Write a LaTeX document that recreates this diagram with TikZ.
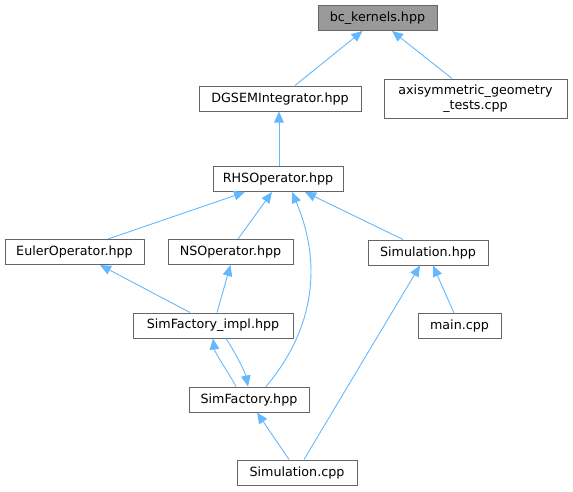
\documentclass[tikz,border=0pt]{standalone}
\usepackage{fontspec}
\setmainfont{DejaVu Sans}
\usepackage{xcolor}
\usepackage{tikz}
\usetikzlibrary{arrows.meta, calc}

\definecolor{edgeblue}{RGB}{99,184,255}
\definecolor{boxgray}{RGB}{102,102,102}
\definecolor{headgray}{RGB}{153,153,153}

\begin{document}
\begin{tikzpicture}[x=1pt, y=-1pt,
    file/.style={
        rectangle, draw=boxgray, fill=white, line width=1pt,
        minimum height=25pt, inner sep=0pt, align=center,
        font=\fontsize{12.7}{15}\selectfont
    },
    current/.style={file, fill=headgray},
    dep/.style={-{Triangle[length=11pt, width=9.5pt]}, edgeblue, line width=0.9pt}
]
\useasboundingbox (0,0) rectangle (573,491);

% Files, row by row
\node[current, minimum width=119pt] (bc) at (377.5,18) {bc\_kernels.hpp};
\node[file, minimum width=162pt] (dgsem) at (280,98.5) {DGSEMIntegrator.hpp};
\node[file, minimum width=183pt, minimum height=39pt] (axis) at (475.5,98.5)
    {axisymmetric\_geometry\\\_tests.cpp};
\node[file, minimum width=130pt] (rhs) at (278,179) {RHSOperator.hpp};
\node[file, minimum width=139pt] (euler) at (74.5,252) {EulerOperator.hpp};
\node[file, minimum width=125pt] (ns) at (230.5,252) {NSOperator.hpp};
\node[file, minimum width=120pt] (simh) at (428,252.5) {Simulation.hpp};
\node[file, minimum width=160pt] (impl) at (213,325.5) {SimFactory\_impl.hpp};
\node[file, minimum width=83pt] (mainc) at (459.5,326) {main.cpp};
\node[file, minimum width=120pt] (simf) at (249,399.5) {SimFactory.hpp};
\node[file, minimum width=120pt] (simcpp) at (297,472.5) {Simulation.cpp};

% Include edges
\draw[dep] ([xshift=15pt]dgsem.north) -- ([xshift=-15pt]bc.south);
\draw[dep] ([xshift=-23.5pt]axis.north) -- ([xshift=14.5pt]bc.south);
\draw[dep] ([xshift=1pt]rhs.north) -- ([xshift=-1pt]dgsem.south);
\draw[dep] ([xshift=33.5pt]euler.north) -- ([xshift=-33pt]rhs.south);
\draw[dep] ([xshift=7.5pt]ns.north) -- ([xshift=-6pt]rhs.south);
\draw[dep] ([xshift=-25pt]simh.north) -- ([xshift=27pt]rhs.south);
\draw[dep] ([xshift=17pt]simf.north) .. controls +(44,-52) and +(33,78) .. ([xshift=14pt]rhs.south);
\draw[dep] ([xshift=-23pt]impl.north) -- ([xshift=25.5pt]euler.south);
\draw[dep] ([xshift=4pt]impl.north) -- (ns.south);
\draw[dep] ([xshift=-13pt]simf.north) .. controls +(-8,-15) and +(2,15) .. (impl.south);
\draw[dep] ([xshift=13pt]impl.south) .. controls +(8,12) and +(-3,-15) .. ([xshift=-1pt]simf.north);
\draw[dep] ([xshift=-5.5pt]mainc.north) -- ([xshift=5pt]simh.south);
\draw[dep] ([xshift=-8pt]simcpp.north) -- ([xshift=8pt]simf.south);
\draw[dep] ([xshift=7pt]simcpp.north) -- ([xshift=-8pt]simh.south);

\end{tikzpicture}
\end{document}
